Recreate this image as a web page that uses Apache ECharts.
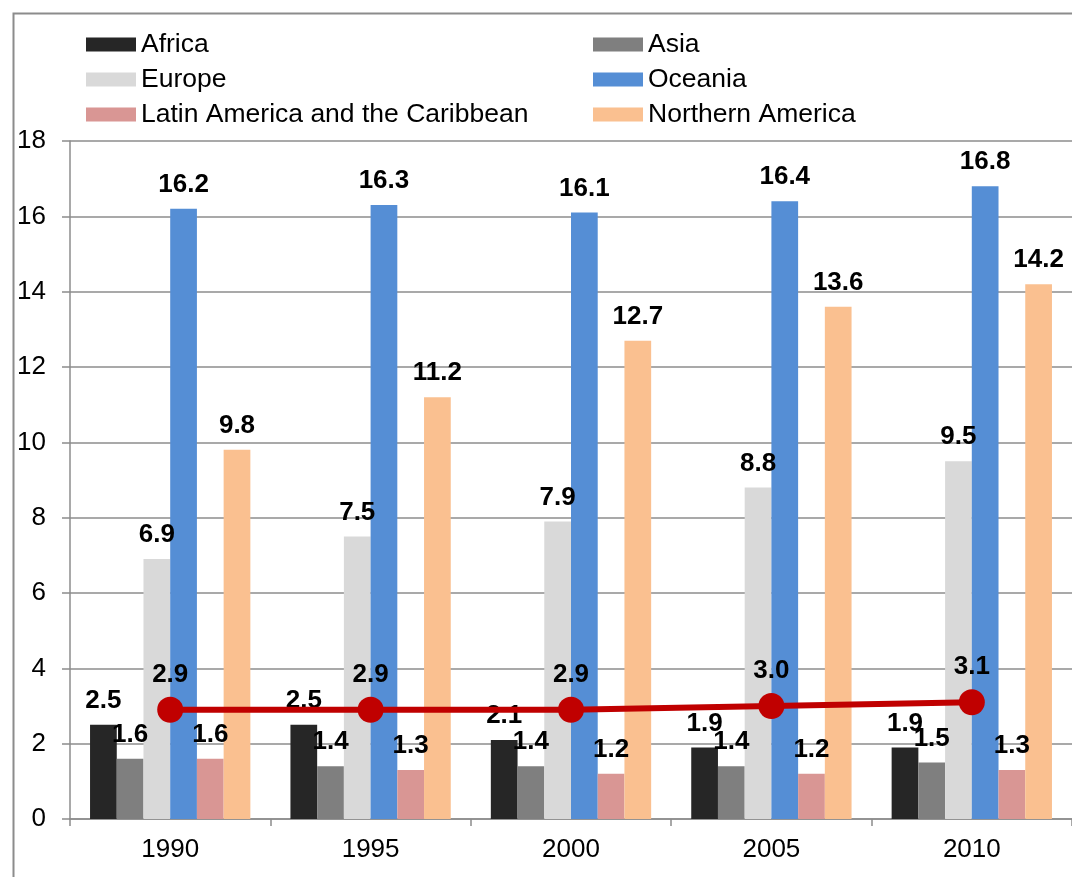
<!DOCTYPE html>
<html>
<head>
<meta charset="utf-8">
<script src="https://cdn.jsdelivr.net/npm/echarts@6/dist/echarts.min.js"></script>
<style>
  html, body { margin: 0; padding: 0; background: #fff; }
  #chart { width: 1072px; height: 877px; }
</style>
</head>
<body>
<div id="chart"></div>
<script>
var years = ['1990', '1995', '2000', '2005', '2010'];

var africa = [2.5, 2.5, 2.1, 1.9, 1.9];
var asia = [1.6, 1.4, 1.4, 1.4, 1.5];
var europe = [6.9, 7.5, 7.9, 8.8, 9.5];
var oceania = [16.2, 16.3, 16.1, 16.4, 16.8];
var latinAmerica = [1.6, 1.3, 1.2, 1.2, 1.3];
var northernAmerica = [9.8, 11.2, 12.7, 13.6, 14.2];
var world = [2.9, 2.9, 2.9, 3.0, 3.1];

var FONT = 'Liberation Sans, Arial, sans-serif';

// bar series list: name, values, colour
var barDefs = [
	['Africa', africa, '#262626'],
	['Asia', asia, '#7f7f7f'],
	['Europe', europe, '#d9d9d9'],
	['Oceania', oceania, '#558ed5'],
	['Latin America and the Caribbean', latinAmerica, '#d99694'],
	['Northern America', northernAmerica, '#fac090']
];

function oneDecimal(p) {
	return p.value.toFixed(1);
}

var series = [];
for (var i = 0; i < barDefs.length; i++) {
	series.push({
		name: barDefs[i][0],
		type: 'bar',
		data: barDefs[i][1],
		barGap: '0%',
		barCategoryGap: '20%',
		itemStyle: { color: barDefs[i][2] },
		label: {
			show: true,
			position: 'top',
			distance: 11,
			fontFamily: FONT,
			fontSize: 26,
			fontWeight: 'bold',
			color: '#000',
			formatter: oneDecimal
		},
		z: 2
	});
}

// world average, drawn over the bars
series.push({
	name: 'World',
	type: 'line',
	data: world,
	symbol: 'circle',
	symbolSize: 26,
	lineStyle: { color: '#c00000', width: 6 },
	itemStyle: { color: '#c00000' },
	label: {
		show: true,
		position: 'top',
		distance: 9,
		fontFamily: FONT,
		fontSize: 26,
		fontWeight: 'bold',
		color: '#000',
		formatter: oneDecimal
	},
	z: 5
});

var legendText = { fontFamily: FONT, fontSize: 26.5, color: '#000' };

var option = {
	animation: false,
	backgroundColor: '#fff',
	textStyle: { fontFamily: FONT },
	graphic: [{
		type: 'rect',
		shape: { x: 13.5, y: 13.5, width: 1100, height: 900 },
		style: { fill: null, stroke: '#8c8c8c', lineWidth: 2 },
		silent: true
	}],
	legend: [{
		orient: 'vertical',
		left: 86,
		top: 31,
		padding: 0,
		itemWidth: 50,
		itemHeight: 14,
		itemGap: 8,
		icon: 'rect',
		textStyle: legendText,
		data: ['Africa', 'Europe', 'Latin America and the Caribbean']
	}, {
		orient: 'vertical',
		left: 593,
		top: 31,
		padding: 0,
		itemWidth: 50,
		itemHeight: 14,
		itemGap: 8,
		icon: 'rect',
		textStyle: legendText,
		data: ['Asia', 'Oceania', 'Northern America']
	}],
	grid: {
		left: 70,
		top: 141,
		width: 1005,
		bottom: 58,
		containLabel: false
	},
	xAxis: {
		type: 'category',
		data: years,
		axisLine: { lineStyle: { color: '#8c8c8c', width: 1.5 } },
		axisTick: { show: true, length: 7, lineStyle: { color: '#8c8c8c', width: 1.5 } },
		axisLabel: { fontFamily: FONT, fontSize: 26, color: '#000', margin: 18 }
	},
	yAxis: {
		type: 'value',
		min: 0,
		max: 18,
		interval: 2,
		axisLine: { show: true, lineStyle: { color: '#8c8c8c', width: 1.5 } },
		axisTick: { show: true, length: 8, lineStyle: { color: '#8c8c8c', width: 1.5 } },
		axisLabel: { fontFamily: FONT, fontSize: 26, color: '#000', margin: 24 },
		splitLine: { show: true, lineStyle: { color: '#8c8c8c', width: 1.5 } }
	},
	series: series
};

var myChart = echarts.init(document.getElementById('chart'));
myChart.setOption(option);
</script>
</body>
</html>
